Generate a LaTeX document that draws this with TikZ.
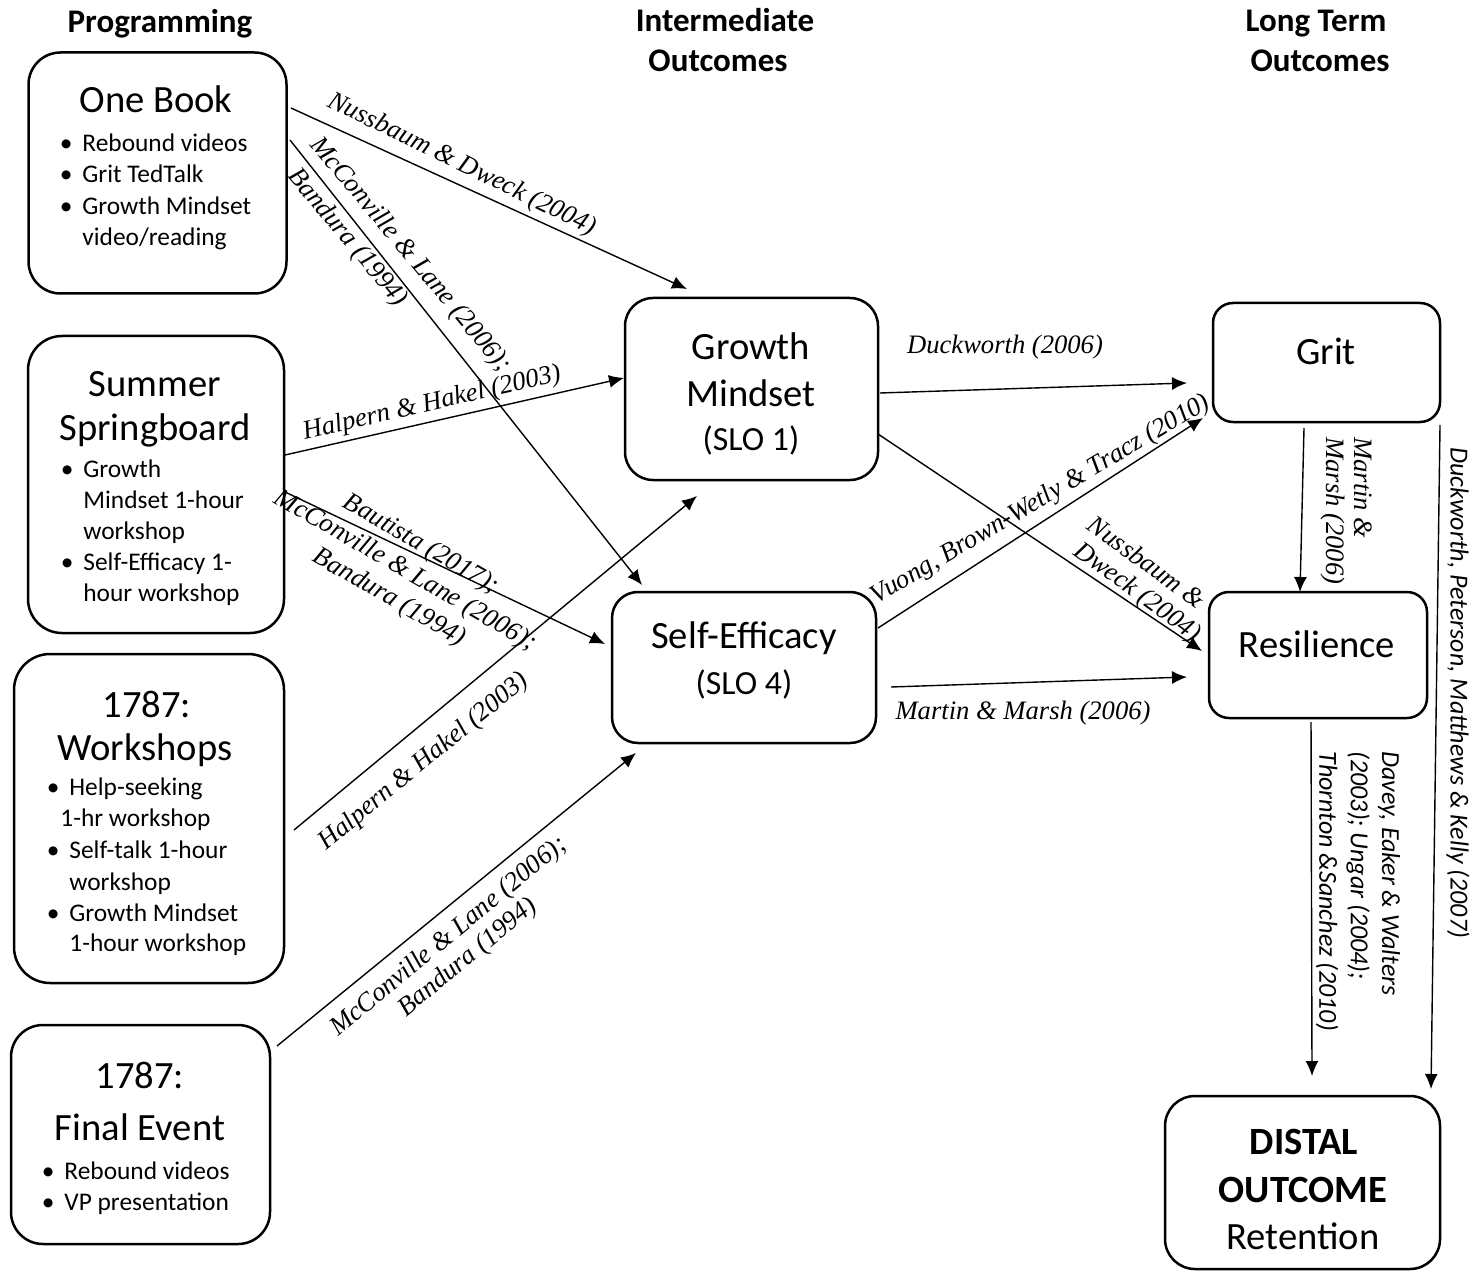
\documentclass[tikz,border=0pt]{standalone}
\usepackage{fontspec}
\setmainfont{Carlito}
\newfontfamily\citeSerif{Liberation Serif}
\usetikzlibrary{arrows.meta}

\newcommand{\fTitleX}{\fontsize{19.3pt}{23pt}\selectfont}
\newcommand{\fItemX}{\fontsize{12.7pt}{16pt}\selectfont}
\newcommand{\fHeadX}{\fontsize{16.5pt}{20pt}\selectfont\bfseries}
\newcommand{\fSloX}{\fontsize{16.9pt}{20pt}\selectfont}
\newcommand{\fCiteX}{\citeSerif\itshape\fontsize{13.3pt}{16pt}\selectfont}
\newcommand{\fCiteSansX}{\itshape\fontsize{13pt}{15pt}\selectfont}
\newcommand{\bulX}{\llap{\textbullet\kern5pt}}

\tikzset{
  box/.style={draw, line width=1.25pt, inner sep=0pt},
  hd/.style={inner sep=0pt, anchor=base, font=\fHeadX},
  ttl/.style={inner sep=0pt, anchor=base, font=\fTitleX},
  slo/.style={inner sep=0pt, anchor=base, font=\fSloX},
  itm/.style={inner sep=0pt, anchor=base west, font=\fItemX},
  cite/.style={inner sep=0pt, font=\fCiteX},
  citesans/.style={inner sep=0pt, font=\fCiteSansX},
  conn/.style={line width=0.7pt, -{Latex[length=7.5pt,width=6.5pt]}},
}

\begin{document}
\begin{tikzpicture}[x=0.5pt,y=-0.5pt]
\path[use as bounding box, fill=white] (0,0) rectangle (1475,1272);

% ---------- headings
\node[hd] (hProg)  at (160,33)  {Programming};
\node[hd] (hInt1)  at (725,32)  {Intermediate};
\node[hd] (hInt2)  at (718,72)  {Outcomes};
\node[hd] (hLong1) at (1316,32) {Long Term};
\node[hd] (hLong2) at (1320,72) {Outcomes};

% ---------- boxes
\node[box, rounded corners=16pt, minimum width=129pt, minimum height=120.5pt] (onebook) at (157.5,173) {};
\node[box, rounded corners=17pt, minimum width=128pt, minimum height=148.5pt] (summer) at (156,484.5) {};
\node[box, rounded corners=18pt, minimum width=135pt, minimum height=164.5pt] (workshops) at (149,818.5) {};
\node[box, rounded corners=16pt, minimum width=129.5pt, minimum height=109.5pt] (finalevent) at (140.5,1134.5) {};
\node[box, rounded corners=14pt, minimum width=126.5pt, minimum height=91pt] (gm) at (751.5,389) {};
\node[box, rounded corners=13pt, minimum width=132pt, minimum height=75.5pt] (se) at (744,667.5) {};
\node[box, rounded corners=10pt, minimum width=113.5pt, minimum height=59.5pt] (grit) at (1326.5,362.5) {};
\node[box, rounded corners=10pt, minimum width=109pt, minimum height=63pt] (res) at (1318,655) {};
\node[box, rounded corners=15pt, minimum width=137.5pt, minimum height=86.5pt] (distal) at (1302.5,1182.5) {};

% ---------- One Book
\node[ttl] (obT) at (156,113) {One Book};
\node[itm] (ob1) at (82,152) {\bulX Rebound videos};
\node[itm] (ob2) at (82,183) {\bulX Grit TedTalk};
\node[itm] (ob3) at (82,215) {\bulX Growth Mindset};
\node[itm] (ob4) at (82,246) {video/reading};

% ---------- Summer Springboard
\node[ttl] (ssT1) at (155,397) {Summer};
\node[ttl] (ssT2) at (155,440) {Springboard};
\node[itm] (ss1) at (83,477) {\bulX Growth};
\node[itm] (ss2) at (83,508) {Mindset 1-hour};
\node[itm] (ss3) at (83,539) {workshop};
\node[itm] (ss4) at (83,570) {\bulX Self-Efficacy 1-};
\node[itm] (ss5) at (83,601) {hour workshop};

% ---------- 1787 Workshops
\node[ttl] (wsT1) at (147,717) {1787:};
\node[ttl] (wsT2) at (145,760) {Workshops};
\node[itm] (ws1) at (69,795) {\bulX Help-seeking};
\node[itm] (ws2) at (60,826) {1-hr workshop};
\node[itm] (ws3) at (69,858) {\bulX Self-talk 1-hour};
\node[itm] (ws4) at (69,890) {workshop};
\node[itm] (ws5) at (69,921) {\bulX Growth Mindset};
\node[itm] (ws6) at (69,951) {1-hour workshop};

% ---------- 1787 Final Event
\node[ttl] (feT1) at (140,1088) {1787:};
\node[ttl] (feT2) at (140,1140) {Final Event};
\node[itm] (fe1) at (64,1179) {\bulX Rebound videos};
\node[itm] (fe2) at (64,1210) {\bulX VP presentation};

% ---------- intermediate / long term texts
\node[ttl] (gmT1) at (751,360) {Growth};
\node[ttl] (gmT2) at (751,407) {Mindset};
\node[slo] (gmT3) at (751,450) {(SLO 1)};
\node[ttl] (seT1) at (744,648) {Self-Efficacy};
\node[slo] (seT2) at (744,694) {(SLO 4)};
\node[ttl] (gritT) at (1326,365) {Grit};
\node[ttl] (resT) at (1317,657) {Resilience};
\node[ttl, font=\fTitleX\bfseries] (diT1) at (1304,1154) {DISTAL};
\node[ttl, font=\fTitleX\bfseries] (diT2) at (1303,1202) {OUTCOME};
\node[ttl] (diT3) at (1303,1249) {Retention};

% ---------- connector end points
\coordinate (a1s) at (291,108);   \coordinate (a1e) at (687,289);
\coordinate (a2s) at (290,140);   \coordinate (a2e) at (642,585);
\coordinate (a3s) at (285,455);   \coordinate (a3e) at (624,378);
\coordinate (a4s) at (285,492);   \coordinate (a4e) at (605,644);
\coordinate (a5s) at (294,830);   \coordinate (a5e) at (697,496);
\coordinate (a6s) at (277,1046);  \coordinate (a6e) at (636,753);
\coordinate (a7s) at (880,393);   \coordinate (a7e) at (1187,383);
\coordinate (a8s) at (878,434);   \coordinate (a8e) at (1202,651);
\coordinate (a9s) at (878,628);   \coordinate (a9e) at (1203,418);
\coordinate (a10s) at (891,687);  \coordinate (a10e) at (1187,677);
\coordinate (a11s) at (1304,428); \coordinate (a11e) at (1300,592);
\coordinate (a12s) at (1311,722); \coordinate (a12e) at (1312,1076);
\coordinate (a13s) at (1440,425); \coordinate (a13e) at (1431,1089);

\draw[conn] (a1s) -- (a1e);
\draw[conn] (a2s) -- (a2e);
\draw[conn] (a3s) -- (a3e);
\draw[conn] (a4s) -- (a4e);
\draw[conn] (a5s) -- (a5e);
\draw[conn] (a6s) -- (a6e);
\draw[conn] (a7s) -- (a7e);
\draw[conn] (a8s) -- (a8e);
\draw[conn] (a9s) -- (a9e);
\draw[conn] (a10s) -- (a10e);
\draw[conn] (a11s) -- (a11e);
\draw[conn] (a12s) -- (a12e);
\draw[conn] (a13s) -- (a13e);

% ---------- labels
\node[cite, rotate=-26] (l1) at (462,165) {Nussbaum \& Dweck (2004)};
\node[cite, rotate=-50] (l2a) at (410,255) {McConville \& Lane (2006);};
\node[cite, rotate=-50] (l2b) at (347,238) {Bandura (1994)};
\node[cite, rotate=13] (l3) at (432,404) {Halpern \& Hakel (2003)};
\node[cite, rotate=-30] (l4a) at (421,545) {Bautista (2017);};
\node[cite, rotate=-30] (l4b) at (405,571) {McConville \& Lane (2006);};
\node[cite, rotate=-30] (l4c) at (389,598) {Bandura (1994)};
\node[cite, rotate=39.5] (l5) at (424,762) {Halpern \& Hakel (2003)};
\node[cite, rotate=39.5] (l6a) at (449,937) {McConville \& Lane (2006);};
\node[cite, rotate=39.5] (l6b) at (468,958) {Bandura (1994)};
\node[cite] (l7) at (1005,347) {Duckworth (2006)};
\node[cite, rotate=-36] (l8a) at (1147,562) {Nussbaum \&};
\node[cite, rotate=-36] (l8b) at (1137,593) {Dweck (2004)};
\node[cite, rotate=30.5] (l9) at (1041,500) {Vuong, Brown-Wetly \& Tracz (2010)};
\node[cite] (l10) at (1023,713) {Martin \& Marsh (2006)};
\node[cite, rotate=-90, anchor=west] (l11a) at (1363,437) {Martin \&};
\node[cite, rotate=-90, anchor=west] (l11b) at (1333,437) {Marsh (2006)};
\node[citesans, rotate=-90, anchor=west] (l12a) at (1389,751) {Davey, Eaker \& Walters};
\node[citesans, rotate=-90, anchor=west] (l12b) at (1358,751) {(2003); Ungar (2004);};
\node[citesans, rotate=-90, anchor=west] (l12c) at (1327,751) {Thornton \&Sanchez (2010)};
\node[citesans, rotate=-90, anchor=west] (l13) at (1458,447) {Duckworth, Peterson, Matthews \& Kelly (2007)};

\end{tikzpicture}
\end{document}
